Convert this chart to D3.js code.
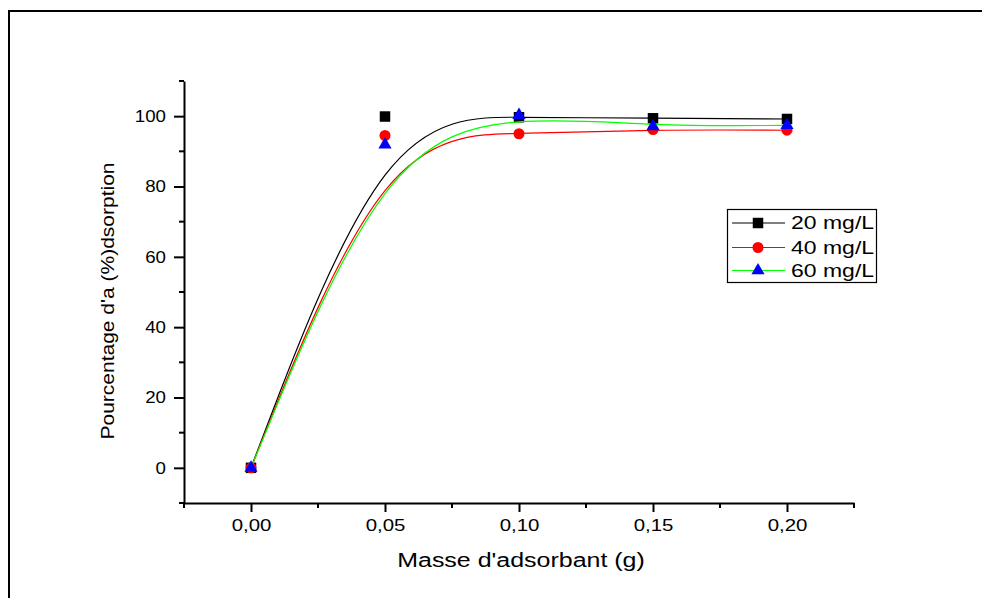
<!DOCTYPE html>
<html><head><meta charset="utf-8">
<script src="https://cdn.jsdelivr.net/npm/d3@7"></script>
<style>
html,body{margin:0;padding:0;background:#fff;}
svg{display:block;font-family:"Liberation Sans",Arial,sans-serif;}
</style></head>
<body>
<svg id="chart" width="982" height="598"></svg>
<script>
// ---- data ----
const masses = [0, 0.05, 0.10, 0.15, 0.20];
const s20 = [0, 99.9, 99.7, 99.4, 99.2];
const s40 = [0, 94.5, 95.0, 96.2, 96.0];
const s60 = [0, 91.9, 100.3, 97.1, 97.4];
const seriesNames = ["20 mg/L", "40 mg/L", "60 mg/L"];
const xTicks = [0, 0.05, 0.10, 0.15, 0.20];
const xMinor = [-0.025, 0.025, 0.075, 0.125, 0.175, 0.225];
const yTicks = [0, 20, 40, 60, 80, 100];
const yMinor = [-10, 10, 30, 50, 70, 90, 110];
const xTitle = "Masse d'adsorbant (g)";
const yTitle = "Pourcentage d'a (%)dsorption";

const svg = d3.select("#chart");
const x = d3.scaleLinear().domain([-0.025, 0.225]).range([184, 854]);
const y = d3.scaleLinear().domain([-10, 110]).range([503, 81]);

function stretch(sel, f) {
  sel.each(function () {
    const w = this.getComputedTextLength();
    this.setAttribute("textLength", w * f);
    this.setAttribute("lengthAdjust", "spacingAndGlyphs");
  });
}

// outer frame (cropped at right/bottom)
svg.append("rect").attr("x", 9).attr("y", 11).attr("width", 1000).attr("height", 620)
  .attr("fill", "none").attr("stroke", "#000").attr("stroke-width", 2);

// axes
const fmt = d => d.toFixed(2).replace(".", ",");
const gx = svg.append("g").attr("transform", "translate(0,503)")
  .call(d3.axisBottom(x).tickValues(xTicks).tickSize(9).tickSizeOuter(0).tickPadding(7).tickFormat(fmt));
gx.selectAll(".tick").filter(d => false).remove();
gx.append("g").selectAll("line").data(xMinor).join("line")
  .attr("x1", d => x(d)).attr("x2", d => x(d)).attr("y1", 0).attr("y2", 5)
  .attr("stroke", "#000");
const gy = svg.append("g").attr("transform", "translate(184,0)")
  .call(d3.axisLeft(y).tickValues(yTicks).tickSize(10).tickSizeOuter(0).tickPadding(8));
gy.append("g").selectAll("line").data(yMinor).join("line")
  .attr("y1", d => y(d)).attr("y2", d => y(d)).attr("x1", 0).attr("x2", -5)
  .attr("stroke", "#000");
[gx, gy].forEach(g => {
  g.selectAll("path.domain").attr("stroke", "#000").attr("stroke-width", 2);
  g.selectAll("line").attr("stroke", "#000").attr("stroke-width", 2);
  g.selectAll("text").attr("font-size", 17).attr("fill", "#000")
    .attr("font-family", "'Liberation Sans',Arial,sans-serif");
});
stretch(gx.selectAll(".tick text"), 1.2);
stretch(gy.selectAll(".tick text"), 1.1);

// titles
const xt = svg.append("text").attr("x", 521).attr("y", 567).attr("text-anchor", "middle")
  .attr("font-size", 19.5).text(xTitle);
stretch(xt, 1.28);
const yt = svg.append("text").attr("transform", "translate(113.5,301) rotate(-90)")
  .attr("text-anchor", "middle").attr("font-size", 19).text(yTitle);
yt.attr("textLength", 277).attr("lengthAdjust", "spacingAndGlyphs");

// series
const series = [
  {vals: s20, line: "#000000", fill: "#000000", sym: d3.symbolSquare, size: 110},
  {vals: s40, line: "#ff0000", fill: "#ff0000", sym: d3.symbolCircle, size: 95},
  {vals: s60, line: "#00ff00", fill: "#0000ff", sym: d3.symbolTriangle, size: 75}
];
const lineGen = d3.line().x(d => x(d[0])).y(d => y(d[1])).curve(d3.curveBasis);
series.forEach(s => {
  const pts = masses.map((m, i) => [m, s.vals[i]]);
  svg.append("path").datum(pts).attr("d", lineGen)
    .attr("fill", "none").attr("stroke", s.line).attr("stroke-width", 1.2);
  svg.append("g").selectAll("path").data(pts).join("path")
    .attr("transform", d => `translate(${x(d[0])},${y(d[1])})`)
    .attr("d", d3.symbol().type(s.sym).size(s.size)).attr("fill", s.fill);
});

// legend
const lg = svg.append("g");
lg.append("rect").attr("x", 727.5).attr("y", 209.5).attr("width", 149).attr("height", 73)
  .attr("fill", "#fff").attr("stroke", "#000").attr("stroke-width", 1.2);
const rowsY = [223, 247.5, 270.5];
series.forEach((s, i) => {
  const cy = rowsY[i];
  lg.append("line").attr("x1", 732).attr("x2", 785).attr("y1", cy).attr("y2", cy)
    .attr("stroke", s.line).attr("stroke-width", 1.2);
  lg.append("path").attr("transform", `translate(758,${cy})`)
    .attr("d", d3.symbol().type(s.sym).size(s.size)).attr("fill", s.fill);
  const t = lg.append("text").attr("x", 791).attr("y", cy).attr("dy", "0.36em")
    .attr("font-size", 17.7).text(seriesNames[i]);
  stretch(t, 1.3);
});
</script>
</body></html>
